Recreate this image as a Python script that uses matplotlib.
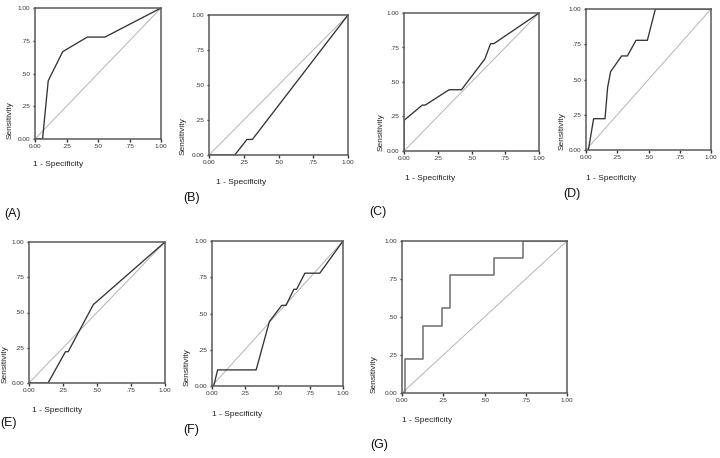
import matplotlib
matplotlib.use("Agg")
import matplotlib.pyplot as plt

W, H = 720, 458

# ---- data (1 - specificity, sensitivity) -------------------------------------
panels = ["A", "B", "C", "D", "E", "F", "G"]

a_fpr = [0.00, 0.06, 0.105, 0.22, 0.415, 0.555, 1.00]
a_tpr = [0.00, 0.00, 0.445, 0.667, 0.778, 0.778, 1.00]

b_fpr = [0.00, 0.185, 0.273, 0.312, 1.00]
b_tpr = [0.00, 0.00, 0.111, 0.111, 1.00]

c_fpr = [0.00, 0.00, 0.136, 0.158, 0.334, 0.426, 0.599, 0.641, 0.666, 1.00]
c_tpr = [0.00, 0.222, 0.333, 0.333, 0.444, 0.444, 0.667, 0.778, 0.778, 1.00]

d_fpr = [0.00, 0.019, 0.061, 0.152, 0.173, 0.197, 0.285, 0.331, 0.40, 0.491, 0.555, 1.00]
d_tpr = [0.00, 0.00, 0.222, 0.222, 0.444, 0.556, 0.667, 0.667, 0.778, 0.778, 1.00, 1.00]

e_fpr = [0.00, 0.14, 0.268, 0.288, 0.473, 1.00]
e_tpr = [0.00, 0.00, 0.222, 0.222, 0.556, 1.00]

f_fpr = [0.00, 0.013, 0.043, 0.337, 0.438, 0.532, 0.565, 0.625, 0.646, 0.709, 0.823, 1.00]
f_tpr = [0.00, 0.00, 0.111, 0.111, 0.444, 0.556, 0.556, 0.667, 0.667, 0.778, 0.778, 1.00]

g_fpr = [0.00, 0.016, 0.016, 0.127, 0.127, 0.242, 0.242, 0.289, 0.289, 0.556, 0.556, 0.733, 0.733, 1.00]
g_tpr = [0.00, 0.00, 0.222, 0.222, 0.444, 0.444, 0.556, 0.556, 0.778, 0.778, 0.889, 0.889, 1.00, 1.00]

curves = {"A": (a_fpr, a_tpr), "B": (b_fpr, b_tpr), "C": (c_fpr, c_tpr),
          "D": (d_fpr, d_tpr), "E": (e_fpr, e_tpr), "F": (f_fpr, f_tpr),
          "G": (g_fpr, g_tpr)}

tick_vals = [0.0, 0.25, 0.5, 0.75, 1.0]
tick_text = ["0.00", ".25", ".50", ".75", "1.00"]

# ---- layout in pixels: axes box, x-label pos, y-label x, panel tag pos -----
box = {"A": (35, 161, 8, 139), "B": (209, 348, 15, 155), "C": (404, 539, 13, 151),
       "D": (586, 711, 9, 150), "E": (29, 165, 242, 383), "F": (212, 343, 241, 386),
       "G": (402, 567, 241, 393)}
xlab = {"A": (33, 164), "B": (216, 183), "C": (405, 178), "D": (586, 178),
        "E": (32, 410), "F": (212, 414), "G": (402, 420)}
ylab_x = {"A": 10, "B": 183, "C": 381, "D": 562, "E": 5, "F": 187, "G": 374}
tag = {"A": (4, 214), "B": (183, 198), "C": (369, 212), "D": (563, 194),
       "E": (0, 423), "F": (183, 430), "G": (370, 445)}

fig = plt.figure(figsize=(W / 100, H / 100), dpi=100, facecolor="white")
plt.rcParams["font.family"] = ["Liberation Sans", "DejaVu Sans"]

for p in panels:
    x0, x1, y0, y1 = box[p]
    ax = fig.add_axes([x0 / W, 1 - y1 / H, (x1 - x0) / W, (y1 - y0) / H])
    ax.plot([0, 1], [0, 1], color="#b4b4b4", lw=0.7)
    fpr, tpr = curves[p]
    if p == "G":
        ax.plot(fpr, tpr, color="#6e6e6e", lw=1.1)
    else:
        ax.plot(fpr, tpr, color="#333333", lw=0.95)
    ax.set_xlim(0, 1)
    ax.set_ylim(0, 1)
    ax.set_xticks(tick_vals)
    ax.set_yticks(tick_vals)
    ax.set_xticklabels(tick_text)
    ax.set_yticklabels(tick_text)
    ax.tick_params(labelsize=4.6, length=1.8, width=1.0, pad=1.5,
                   colors="#333333")
    for s in ax.spines.values():
        s.set_color("#5a5a5a")
        s.set_linewidth(1.1)

    lx, ly = xlab[p]
    fig.text(lx / W, 1 - ly / H, "1 - Specificity", fontsize=6,
             ha="left", va="center", color="#222222")
    fig.text(ylab_x[p] / W, 1 - y1 / H, "Sensitivity", fontsize=6,
             rotation=90, ha="center", va="bottom", color="#222222")
    tx, ty = tag[p]
    fig.text(tx / W, 1 - ty / H, f"({p})", fontsize=9,
             ha="left", va="center", color="#111111")

fig.savefig("out.png", dpi=100, facecolor="white")
